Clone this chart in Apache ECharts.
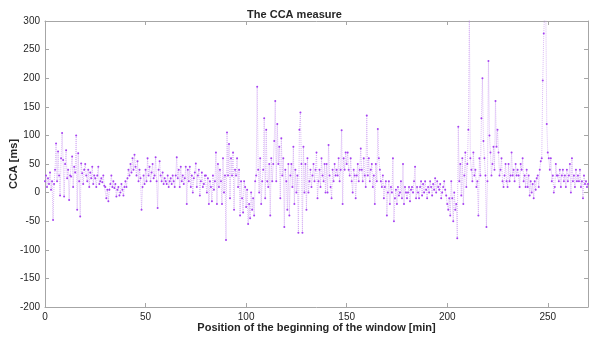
<!DOCTYPE html>
<html>
<head>
<meta charset="utf-8">
<script src="https://cdn.jsdelivr.net/npm/echarts@6/dist/echarts.min.js"></script>
<style>
  html, body { margin: 0; padding: 0; background: #fff; }
  #chart { width: 589px; height: 337px; }
</style>
</head>
<body>
<div id="chart"></div>
<script>
  // sample spacing in minutes
  const step = 0.5;
  const xTicks = [0, 50, 100, 150, 200, 250];
  const yTicks = [-200, -150, -100, -50, 0, 50, 100, 150, 200, 250, 300];

  // CCA values [ms], one row per 5 minutes (10 samples each)
  const cca = [
    20, 30, 10, 25, 15, 35, 5, 20, -48, 15,
    40, 86, 20, 72, 30, -5, 60, 104, 57, -7,
    50, 74, 25, 40, -13, 30, 28, 63, 10, 45,
    35, 100, -30, 69, 20, -42, 51, 34, 15, 40,
    50, 30, 20, 40, 10, 35, 25, 45, 15, 30,
    25, 10, 30, 45, 15, 20, 25, 18, 30, 12,
    10, -10, 5, -15, 5, 15, 30, 10, 20, 8,
    15, -7, 5, 10, -5, 0, 15, 5, -5, 10,
    20, 10, 25, 40, 30, 50, 35, 60, 40, 66,
    45, 30, 55, 20, 40, 25, -30, 10, 30, 15,
    40, 20, 60, 30, 45, 20, 35, 50, 25, 30,
    62, 20, -27, 40, 55, 30, 20, 35, 15, 25,
    20, 15, 30, 10, 20, 25, 15, 30, 20, 10,
    30, 62, 25, 40, 10, 45, 20, 30, 15, 25,
    45, -20, 40, 20, 45, 10, 30, 0, 25, 35,
    51, 10, 30, 40, -5, 20, 35, 10, 15, 30,
    30, 0, 25, -20, 20, 10, -15, 30, 5, 20,
    70, -20, 50, 10, 40, 20, -20, 60, 0, 30,
    -83, 105, 30, 85, -10, 60, 30, 70, -30, 40,
    30, 60, 10, 40, -40, 20, -10, -35, 20, 10,
    -25, 5, -55, -20, -45, 0, -30, -10, -40, 20,
    30, 185, 40, 0, 60, -20, 20, 40, 130, -10,
    110, 20, 10, 50, -40, 60, 20, 50, 90, 160,
    20, 120, 50, 80, -10, 95, 30, 60, -60, 40,
    20, -30, 50, -40, 30, 50, 10, 80, -20, 40,
    0, 30, -70, 110, 140, 50, -70, 80, 0, 50,
    -30, 60, 0, 20, 40, 10, 30, 50, 20, 40,
    70, -10, 20, 40, 10, 60, 30, 20, 50, 0,
    50, 0, 83, 30, 10, -10, 40, 20, 50, 30,
    40, 30, 60, 20, 40, 109, -20, 60, 40, 70,
    50, 70, 40, 30, 60, 20, 0, 40, 30, -10,
    30, 50, 20, 40, 77, 40, 20, 60, 30, 10,
    135, 30, 60, 20, 40, 50, 10, 30, -20, 50,
    20, 111, 60, 40, 20, 10, 30, -10, 10, 20,
    -40, 0, 20, -20, 10, 0, 60, -50, -10, 5,
    -20, 10, -5, 0, 20, -10, 50, -20, 10, 0,
    -10, 0, 10, -15, 5, 10, 0, 20, 45, -10,
    10, 0, -10, 10, 20, -5, 15, 0, 20, 5,
    -10, 10, 0, 20, 10, -5, 15, 5, 25, 0,
    20, 10, 5, 15, -10, 0, 10, 20, 5, -5,
    -20, -30, -10, -40, 20, -10, -50, 0, -30, -20,
    -80, 115, 20, 50, -5, 60, -20, 30, 70, 10,
    50, 110, 310, 60, 40, 20, 70, 30, 40, 10,
    20, -40, 60, 30, 130, 200, 90, 60, 30, -60,
    20, 230, 100, 70, 30, 50, 80, 40, 160, 80,
    110, 70, 30, 40, 60, 20, 10, 30, 50, 20,
    10, 50, 20, 30, 70, 30, 40, 20, 50, 30,
    40, 30, 10, 50, 40, 60, 20, 30, 10, 40,
    10, 30, -5, 20, 0, 15, -10, 20, 5, 25,
    30, 10, 40, 55, 60, 196, 278, 320, 330, 120,
    70, 60, 40, 60, 20, 30, 0, 10, 50, 30,
    30, 20, 40, 10, 30, 40, 20, 30, 10, 40,
    20, 30, 50, 0, 60, 20, 30, 10, 40, 20,
    30, 20, 40, 10, 20, -10, 30, 15, 20, 10,
    15
  ];

  const points = cca.map((v, i) => [i * step, v]);
  const font = "'Liberation Sans', Arial, Helvetica, sans-serif";
  const axisColor = "#a6a6a6";
  const textColor = "#262626";

  const chart = echarts.init(document.getElementById("chart"));
  chart.setOption({
    animation: false,
    title: {
      text: "The CCA measure", left: "center", top: 4,
      textStyle: { fontFamily: font, fontSize: 11, fontWeight: "bold", color: textColor }
    },
    grid: { left: 45, right: 1, top: 21, bottom: 30, outerBoundsMode: "none", containLabel: false },
    xAxis: [{
      type: "value", min: 0, max: 270, interval: 50,
      name: "Position of the beginning of the window [min]",
      nameLocation: "middle", nameGap: 15, nameMoveOverlap: false,
      nameTextStyle: { fontFamily: font, fontSize: 11, fontWeight: "bold", color: textColor },
      axisLine: { show: true, onZero: false, lineStyle: { color: axisColor } },
      axisTick: { inside: true, length: 4, lineStyle: { color: axisColor } },
      axisLabel: { fontFamily: font, fontSize: 10, color: textColor, margin: 5, showMaxLabel: false,
        formatter: (v) => xTicks.includes(v) ? String(v) : "" },
      splitLine: { show: false }
    }, {
      type: "value", position: "top", min: 0, max: 270, interval: 50,
      axisLine: { show: true, onZero: false, lineStyle: { color: axisColor } },
      axisTick: { inside: true, length: 4, lineStyle: { color: axisColor } },
      axisLabel: { show: false }, splitLine: { show: false }
    }],
    yAxis: [{
      type: "value", min: -200, max: 300, interval: 50,
      name: "CCA [ms]", nameLocation: "middle", nameGap: 26, nameMoveOverlap: false,
      nameTextStyle: { fontFamily: font, fontSize: 11, fontWeight: "bold", color: textColor },
      axisLine: { show: true, onZero: false, lineStyle: { color: axisColor } },
      axisTick: { inside: true, length: 4, lineStyle: { color: axisColor } },
      axisLabel: { fontFamily: font, fontSize: 10, color: textColor, margin: 5,
        formatter: (v) => yTicks.includes(v) ? String(v) : "" },
      splitLine: { show: false }
    }, {
      type: "value", position: "right", min: -200, max: 300, interval: 50,
      axisLine: { show: true, onZero: false, lineStyle: { color: axisColor } },
      axisTick: { inside: true, length: 4, lineStyle: { color: axisColor } },
      axisLabel: { show: false }, splitLine: { show: false }
    }],
    series: [{
      type: "line",
      data: points,
      clip: true,
      symbol: "circle",
      symbolSize: 2,
      itemStyle: { color: "#a641f2", borderWidth: 0 },
      lineStyle: { color: "rgba(200,150,240,0.65)", width: 1, type: [1, 1] }
    }]
  });
</script>
</body>
</html>
